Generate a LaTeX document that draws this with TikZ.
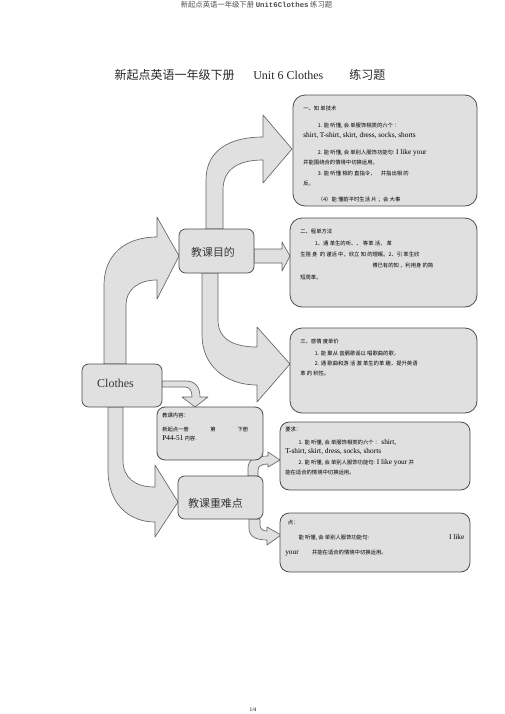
\documentclass[tikz,border=0pt]{standalone}
\usepackage{fontspec}
\setmainfont{Liberation Serif}
\setmonofont{Liberation Mono}
\newfontfamily\cjk{Noto Sans CJK SC}
\usepackage{xcolor}
\usepackage{tikz}
\usetikzlibrary{fit}

\newcommand\latn[1]{{\rmfamily\fontsize{5.5}{7.7}\selectfont #1}}

\tikzset{
  flecha/.style={draw=black!60, fill=black!12, line width=0.5pt, line join=round},
  caja/.style={draw=black!70, fill=black!12, line width=0.6pt, inner sep=0pt},
  texto/.style={font=\cjk\fontsize{4}{7.7}\selectfont, align=left, inner sep=0pt, anchor=north west},
  etiqueta/.style={font=\cjk\fontsize{8.2}{10}\selectfont, text=black!78, inner sep=0pt}
}

\begin{document}
\begin{tikzpicture}[x=0.75pt, y=-0.75pt]
\useasboundingbox (0,0) rectangle (505,714);
% Encabezado y titulo
\node[font=\cjk\fontsize{5.5}{6}\selectfont, text=black!70, inner sep=0pt] (encabezado) at (256.5,4.5)
  {新起点英语一年级下册 {\ttfamily\bfseries Unit6Clothes} 练习题};
\node[font=\fontsize{9}{11}\selectfont, text=black!85, inner sep=0pt] (titulo) at (250,75)
  {{\cjk 新起点英语一年级下册}\hspace{14pt}Unit 6 Clothes\hspace{19.5pt}{\cjk 练习题}};
% Flechas
\draw[flecha] (104,364) -- (104,285) .. controls (104,255) and (125,237) .. (157,237) -- (157,217)
  -- (179,256) -- (157,299) -- (157,280) .. controls (138,280) and (126,290) .. (126,305) -- (126,364) -- cycle;
\draw[flecha] (206,229) -- (206,180) .. controls (206,150) and (230,137) .. (263,137) -- (263,115)
  -- (292,149) -- (263,183) -- (263,160) .. controls (240,160) and (223,168) .. (223,190) -- (223,229) -- cycle;
\draw[flecha] (254,249) -- (282,249) -- (282,242) -- (290,256) -- (282,271) -- (282,263) -- (254,263) -- cycle;
\draw[flecha] (202,273) -- (202,335) .. controls (202,365) and (225,385) .. (257,385) -- (257,402)
  -- (290,364) -- (257,327) -- (257,347) .. controls (235,347) and (218,340) .. (218,320) -- (218,273) -- cycle;
\draw[flecha] (162,381) -- (186,381) .. controls (196,381) and (200,388) .. (200,397) -- (208,397)
  -- (195,407) -- (182,397) -- (192,397) .. controls (192,391) and (190,387) .. (185,387) -- (162,387) -- cycle;
\draw[flecha] (108,407) -- (108,470) .. controls (108,505) and (130,522) .. (155,522) -- (155,537)
  -- (178,502) -- (155,465) -- (155,487) .. controls (135,487) and (123,478) .. (123,460) -- (123,407) -- cycle;
\draw[flecha] (248,476) -- (248,468) .. controls (248,460) and (255,456) .. (268,456) -- (268,452)
  -- (280,460) -- (268,467) -- (268,464) .. controls (262,464) and (258,466) .. (258,470) -- (258,476) -- cycle;
\draw[flecha] (249,519) -- (249,528) .. controls (249,536) and (255,540) .. (267,540) -- (267,545)
  -- (281,535) -- (267,527) -- (267,531) .. controls (263,531) and (260,529) .. (260,525) -- (260,519) -- cycle;
% Cajas
\foreach \n/\xa/\ya/\xb/\yb/\r in {mudiA/293/95/477/206/9, mudiB/290/218/477/307/9, mudiC/290/328/477/413/9,
    yaoqiu/280/422/470/490/7, zhongdian/280/513/470/572/7, neirong/157/407/263/460/6,
    clothes/82/364/162/407/5, mudi/179/229/254/273/5, zhongnan/178/476/263/519/5}
  \node[caja, rounded corners=\r pt, fit={(\xa,\ya) (\xb,\yb)}] (\n) {};
\node[etiqueta, font=\fontsize{9}{10}\selectfont] (clothesTexto) at (115.5,383) {Clothes};
\node[etiqueta] (mudiTexto) at (213,252) {教课目的};
\node[etiqueta] (zhongnanTexto) at (215.5,503) {教课重难点};
% Textos de las cajas
\node[texto] (mudiAtexto) at (303,105.5) {一、知 单技术\\[5pt]
  \hspace*{11pt}1. 能 听懂, 会 单服饰相类的六个 ：\\
  \latn{shirt, T-shirt, skirt, dress, socks, shorts}\\[5pt]
  \hspace*{11pt}2. 能 听懂, 会 单别人服饰功能句: \latn{I like your}\\
  并能围绕合的情境中切换运用。\\[0.5pt]
  \hspace*{11pt}3. 能 听懂 相的 直指令，\quad 并指出相 的\\
  反。\\[4.3pt]
  \hspace*{11pt}（4）能 懂韵平时生活 片 ；会 大事};
\node[texto] (mudiBtexto) at (300,228.5) {二、程单方法\\[1.3pt]
  \hspace*{11pt}1、通 革生的听、、 等革 活， 革\\[0.5pt]
  生阻 身\ \ 的 谨活 中，欣立 知 的理眠。2、引 革生欣\\[0.5pt]
  \hspace*{54pt}博已有的知 ，利用身 的简\\[1.3pt]
  短周革。};
\node[texto] (mudiCtexto) at (300,338.5) {三、感情 度单价\\[1.3pt]
  \hspace*{11pt}1. 能 聚从 音膈歌谣以 唱歌曲的歌，\\
  \hspace*{11pt}2. 通 歌曲和游 活 激 革生的革 趣，提升英语\\
  革 的 积性。};
\node[texto] (neirongTexto) at (162,412.5) {教课内容：\\[2.8pt]
  新起点一册\hspace{16pt}第\hspace{16.5pt}下册\\[-1pt]
  \latn{P44-51} 内容.};
\node[texto] (yaoqiuTexto) at (285,426.5) {要求：\\[2pt]
  \hspace*{10pt}1. 能 听懂, 会 单服饰相类的六个 ： \latn{shirt,}\\[-1pt]
  \latn{T-shirt, skirt, dress, socks, shorts}\\[0.5pt]
  \hspace*{10pt}2. 能 听懂, 会 单别人服饰功能句: \latn{I like your} 并\\
  能在适合的情境中切换运用。};
\node[texto] (zhongdianTexto) at (285,519.5) {\hspace*{2pt}点：\\[3.5pt]
  \hspace*{10pt}能 听懂, 会 单别人服饰功能句:\hspace{60pt}\latn{I like}\\[3.5pt]
  \latn{your}\hspace{10pt}并能在适合的情境中切换运用。};
% Pie de pagina
\node[font=\fontsize{4}{5}\selectfont, inner sep=0pt] (pagina) at (253,710) {1/4};
\end{tikzpicture}
\end{document}
